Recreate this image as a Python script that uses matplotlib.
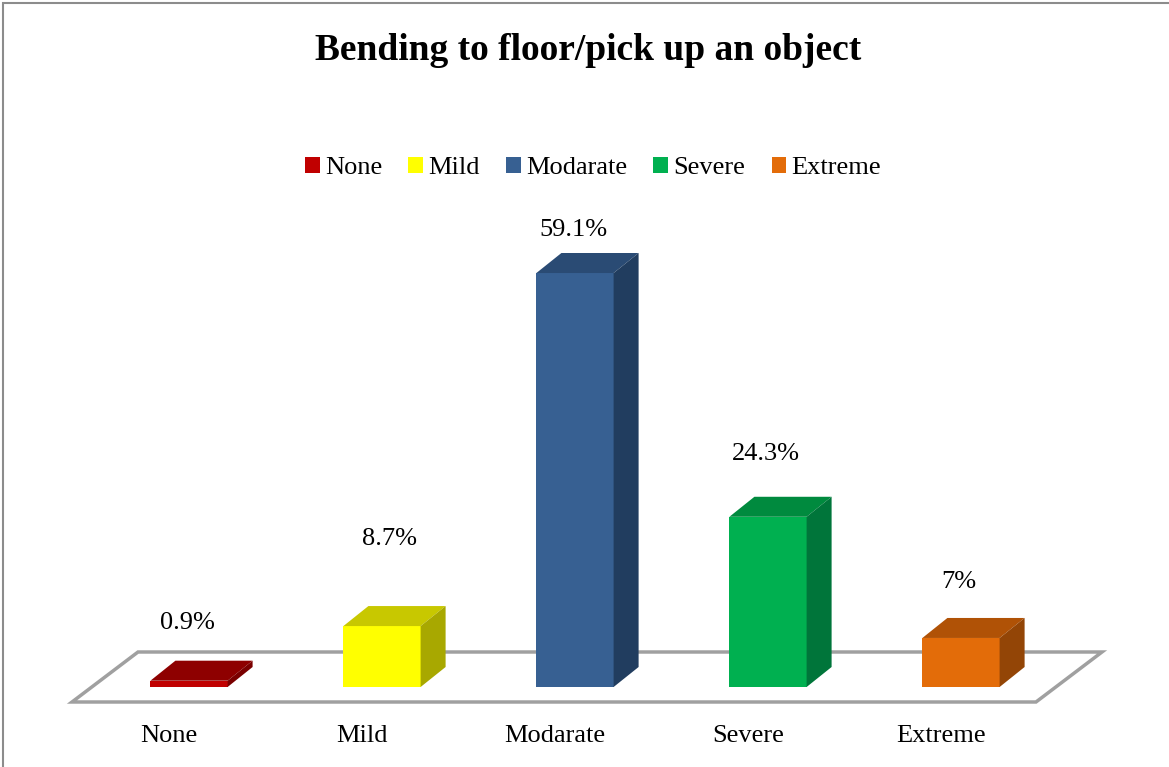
import matplotlib
matplotlib.use('Agg')
import matplotlib.pyplot as plt
from matplotlib.patches import Polygon, Patch, Rectangle

plt.rcParams['font.family'] = ['Liberation Serif', 'DejaVu Serif']

categories = ['None', 'Mild', 'Modarate', 'Severe', 'Extreme']
values = [0.9, 8.7, 59.1, 24.3, 7]
value_labels = ['0.9%', '8.7%', '59.1%', '24.3%', '7%']

# front / top / side shades for each bar
FRONT = ['#c00000', '#ffff00', '#376092', '#00b050', '#e36c09']
TOP = ['#8e0000', '#c8c800', '#2a4b74', '#008a3e', '#b05206']
SIDE = ['#7a0000', '#a8a800', '#213d5f', '#00753a', '#934506']
LEGEND_C = ['#c00000', '#ffff00', '#376092', '#00b050', '#e36c09']

# value label placement: lift above bar top (% units), sideways nudge (pixels)
LIFT = [8.2, 12.4, 6.1, 8.9, 8.0]
NUDGE = [-2, 7.5, -2, -2, -2.5]

W, H = 1169, 767
X0, XSTEP = 189, 193      # pixel centre of first bar, spacing
Y0, YSCALE = 687, 7.005   # pixel of the bar base, pixels per percent
BW = 0.4                  # bar width (category units)
DX, DY = 25 / XSTEP, 20 / YSCALE   # 3-D depth offset


def px_x(p):
    return (p - X0) / XSTEP


def px_y(p):
    return (Y0 - p) / YSCALE


fig = plt.figure(figsize=(W / 100, H / 100), dpi=100)
ax = fig.add_axes([0, 0, 1, 1])
ax.set_xlim(px_x(0), px_x(W))
ax.set_ylim(px_y(H), px_y(0))
ax.axis('off')

# outer frame (only top and left edges fall inside the canvas)
fig.patches.append(Rectangle((3 / W, -0.01), 1.02, 1 - 3 / H + 0.01,
                             transform=fig.transFigure, fill=False,
                             ec='#8c8c8c', lw=1.5))

# floor
floor = [(px_x(72), px_y(702)), (px_x(1036), px_y(702)),
         (px_x(1102), px_y(652)), (px_x(138), px_y(652))]
ax.add_patch(Polygon(floor, closed=True, fc='white', ec='#a0a0a0', lw=2.5, zorder=1))

xs = list(range(len(categories)))
ax.bar(xs, values, width=BW, color=FRONT, zorder=3)
for i, v in enumerate(values):
    l, r = i - BW / 2, i + BW / 2
    top = [(l, v), (r, v), (r + DX, v + DY), (l + DX, v + DY)]
    side = [(r, 0), (r + DX, DY), (r + DX, v + DY), (r, v)]
    ax.add_patch(Polygon(top, closed=True, fc=TOP[i], ec='none', zorder=3))
    ax.add_patch(Polygon(side, closed=True, fc=SIDE[i], ec='none', zorder=3))
    ax.text(i + NUDGE[i] / XSTEP, v + LIFT[i], value_labels[i], ha='center',
            va='center', fontsize=19, zorder=5)
    ax.text(i - 0.104, px_y(736), categories[i], ha='center', va='center',
            fontsize=19, zorder=5)

fig.text(588 / W, 1 - 50 / H, 'Bending to floor/pick up an object',
         ha='center', va='center', fontsize=27, fontweight='bold')

handles = [Patch(fc=c, ec='none') for c in LEGEND_C]
fig.legend(handles, categories, loc='center', bbox_to_anchor=(593 / W, 1 - 168 / H),
           ncol=5, frameon=False, fontsize=19, handlelength=0.55, handleheight=0.55,
           handletextpad=0.2, columnspacing=1.0, borderaxespad=0)

fig.savefig('out.png', dpi=100)
